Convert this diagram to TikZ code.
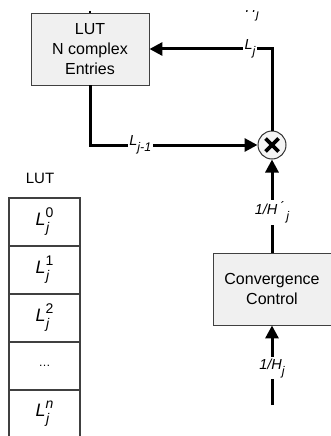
\documentclass[tikz,border=0pt]{standalone}
\usepackage{fontspec}
\setmainfont{Liberation Sans}
\usetikzlibrary{arrows.meta,calc}

% italic subscript / superscript helpers
\newcommand{\lsub}[1]{\raisebox{-0.4em}{\fontsize{12.5}{12.5}\selectfont\itshape #1}}
\newcommand{\cellL}[1]{{\fontsize{18}{18}\selectfont\itshape L}%
  \makebox[0pt][l]{\raisebox{-7pt}{\fontsize{14}{14}\selectfont\itshape\kern0.5pt j}}%
  \raisebox{8pt}{\fontsize{14}{14}\selectfont #1}}

\begin{document}
\begin{tikzpicture}[x=1pt,y=-1pt,
  box/.style={draw=black!75, line width=0.9pt, fill=black!6, align=center,
    inner sep=0pt, font=\fontsize{16}{20}\selectfont},
  cell/.style={draw=black!75, line width=1.1pt, minimum width=71pt,
    minimum height=48pt, inner sep=0pt, font=\fontsize{16}{18}\selectfont},
  flow/.style={line width=3pt, -{Triangle[length=13pt,width=13pt]}},
  lbl/.style={fill=white, inner sep=1.5pt, font=\fontsize{14.5}{16}\selectfont\itshape},
]
\useasboundingbox (0,0) rectangle (330,436);

% main blocks
\node[box, minimum width=118pt, minimum height=72pt] (lut) at (90,49)
  {LUT\\N complex\\Entries};
\node[circle, draw=black!80, line width=1pt, fill=black!4, minimum size=28pt,
  inner sep=0pt] (mul) at (272,145) {};
\draw[line width=3.6pt] ($(mul)+(-6.5,-6.5)$) -- ($(mul)+(6.5,6.5)$)
  ($(mul)+(-6.5,6.5)$) -- ($(mul)+(6.5,-6.5)$);
\node[box, minimum width=118pt, minimum height=72pt] (conv) at (272,289)
  {Convergence\\Control};

% stub above the LUT block
\coordinate (lutin) at (90,11);
\draw[line width=2pt] (lutin) -- (lut.north);

% signal flow
\coordinate (hin) at (272,405);
\draw[flow] (hin) -- node[lbl, pos=0.46] {1/H\lsub{j}} (conv.south);
\draw[flow] (conv.north) -- node[lbl, pos=0.43] {1/H\,\'{}\,\lsub{j}} (mul.south);
\draw[flow] (mul.north) |- node[lbl, pos=0.59] {L\lsub{j}} (lut.east);
\draw[flow] (lut.south) |- node[lbl, pos=0.65] {L\lsub{j-1}} (mul.west);

% label of the outgoing signal, cut by the top edge
\begin{scope}
  \clip (243.5,11) rectangle (280,30);
  \node[font=\fontsize{14.5}{16}\selectfont\itshape, anchor=base east, inner sep=0pt]
    (hout) at (259,12.5) {1/H\lsub{j}};
\end{scope}

% LUT contents
\node[font=\fontsize{15}{18}\selectfont] (luttitle) at (40,178) {LUT};
\node[cell] (c0) at (44.5,222) {\cellL{0}};
\node[cell] (c1) at (44.5,270) {\cellL{1}};
\node[cell] (c2) at (44.5,318) {\cellL{2}};
\node[cell] (c3) at (44.5,366) {\fontsize{12}{12}\selectfont\dots};
\node[cell] (c4) at (44.5,414) {\cellL{\itshape n}};
\end{tikzpicture}
\end{document}
